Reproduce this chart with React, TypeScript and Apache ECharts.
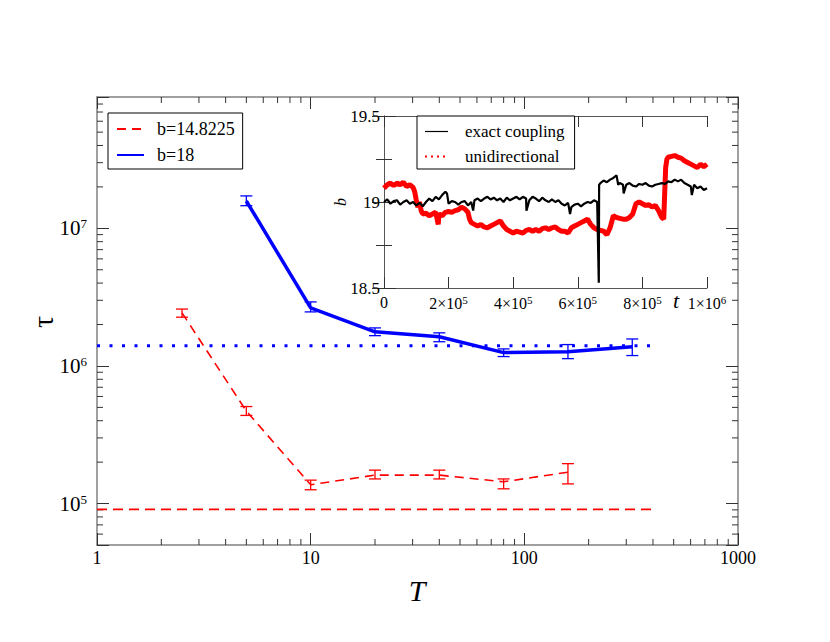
import React, { useEffect, useRef } from 'react';
import * as echarts from 'echarts';

const SERIF = "'Liberation Serif', serif";

// Main panel: tau vs T
const tempsB18 = [5, 10, 20, 40, 80, 160, 320];
const tauB18 = [1.58e7, 2.64e6, 1.77e6, 1.63e6, 1.25e6, 1.27e6, 1.38e6];
const tauB18Lo = [1.46e7, 2.47e6, 1.66e6, 1.5e6, 1.17e6, 1.13e6, 1.19e6];
const tauB18Hi = [1.72e7, 2.92e6, 1.89e6, 1.74e6, 1.33e6, 1.43e6, 1.57e6];

const tempsB14 = [2.5, 5, 10, 20, 40, 80, 160];
const tauB14 = [2.43e6, 4.7e5, 1.37e5, 1.61e5, 1.61e5, 1.44e5, 1.69e5];
const tauB14Lo = [2.26e6, 4.37e5, 1.26e5, 1.51e5, 1.51e5, 1.28e5, 1.39e5];
const tauB14Hi = [2.59e6, 5.07e5, 1.48e5, 1.75e5, 1.75e5, 1.51e5, 1.95e5];

const refTauB18 = 1.4e6;
const refTauB14 = 9.06e4;
const refTRange = [1, 400];

const xMinorTicks = [2, 3, 4, 5, 6, 7, 8, 9, 20, 30, 40, 50, 60, 70, 80, 90, 200, 300, 400, 500, 600, 700, 800, 900];
const yMinorTicks = [6e4, 7e4, 8e4, 9e4, 2e5, 3e5, 4e5, 5e5, 6e5, 7e5, 8e5, 9e5, 2e6, 3e6, 4e6, 5e6, 6e6, 7e6, 8e6, 9e6, 2e7, 3e7, 4e7, 5e7, 6e7, 7e7, 8e7];

// Inset: b vs t (t in units of 1e4)
const exactCoupling: [number, number][] = [
  [0, 19.0], [1, 19.015], [2, 18.99], [3, 19.005], [4, 19.01], [5, 18.985], [6, 19.0], [7, 19.01], [8, 18.99], [9, 19.0],
  [10, 18.98], [11, 18.995], [12, 18.975], [13, 19.0], [14, 19.02], [15, 19.005], [16, 19.03], [17, 19.015], [18, 19.04], [19, 19.06],
  [19.5, 19.05], [20, 18.99], [21, 19.005], [22, 19.0], [23, 18.985], [24, 19.0], [25, 19.005], [26, 18.98], [27, 19.0], [27.6, 18.95],
  [28, 19.01], [29, 19.02], [30, 19.005], [31, 19.02], [32, 19.03], [33, 19.015], [34, 19.025], [35, 19.01], [36, 19.02], [37, 19.0],
  [38, 19.025], [39, 19.01], [40, 19.02], [41, 19.03], [42, 19.015], [43, 19.03], [44, 19.02], [44.1, 18.95], [45, 19.01], [46, 19.03],
  [47, 19.02], [48, 19.005], [49, 19.025], [50, 19.01], [51, 19.0], [52, 19.015], [53, 19.0], [54, 19.01], [55, 18.99], [56, 18.98],
  [57, 18.995], [57.6, 18.93], [58, 18.97], [59, 18.985], [60, 18.99], [61, 18.975], [62, 18.99], [63, 19.0], [64, 18.995], [65, 19.01],
  [66, 19.0], [66.5, 18.53], [66.6, 19.1], [67, 19.11], [68, 19.125], [69, 19.115], [70, 19.13], [71, 19.14], [72, 19.155], [72.5, 19.1],
  [73, 19.11], [74, 19.1], [74.2, 19.05], [75, 19.1], [76, 19.11], [77, 19.095], [78, 19.09], [79, 19.105], [80, 19.1], [81, 19.11],
  [82, 19.095], [83, 19.09], [84, 19.1], [85, 19.105], [86, 19.11], [87, 19.105], [88, 19.12], [89, 19.115], [90, 19.13], [91, 19.12],
  [92, 19.13], [93, 19.11], [94, 19.1], [95, 19.09], [95.3, 19.04], [96, 19.1], [97, 19.08], [98, 19.09], [99, 19.07], [100, 19.08],
];

const unidirectional: [number, number][] = [
  [0, 19.08], [1, 19.1], [2, 19.11], [3, 19.095], [4, 19.11], [5, 19.1], [6, 19.115], [7, 19.09], [8, 19.1], [9, 19.085],
  [9.5, 19.06], [10, 19.01], [10.5, 18.97], [11, 19.0], [11.5, 18.95], [12, 18.93], [13, 18.935], [14, 18.92], [15, 18.93], [16, 18.94],
  [16.8, 18.87], [17, 18.93], [18, 18.92], [19, 18.94], [20, 18.945], [21, 18.94], [22, 18.95], [23, 18.955], [24, 18.97], [25, 18.96],
  [26, 18.94], [26.5, 18.9], [27, 18.88], [28, 18.87], [29, 18.86], [30, 18.87], [31, 18.855], [32, 18.85], [33, 18.86], [34, 18.87],
  [35, 18.88], [36, 18.89], [37, 18.86], [38, 18.84], [39, 18.83], [40, 18.82], [41, 18.83], [42, 18.825], [43, 18.82], [44, 18.835],
  [45, 18.84], [46, 18.83], [47, 18.84], [48, 18.83], [49, 18.845], [50, 18.85], [51, 18.84], [52, 18.85], [53, 18.855], [54, 18.84],
  [55, 18.83], [56, 18.83], [57, 18.82], [58, 18.85], [59, 18.86], [60, 18.87], [61, 18.88], [62, 18.89], [63, 18.9], [64, 18.87],
  [65, 18.85], [66, 18.84], [67, 18.835], [68, 18.83], [69, 18.81], [70, 18.85], [71, 18.92], [72, 18.91], [73, 18.905], [74, 18.9],
  [75, 18.9], [76, 18.91], [77, 18.93], [78, 18.99], [79, 19.0], [80, 18.99], [81, 18.98], [82, 18.985], [83, 18.97], [84, 18.98],
  [85, 18.95], [86, 18.91], [86.6, 18.9], [87.2, 19.2], [87.6, 19.25], [88, 19.26], [89, 19.265], [90, 19.27], [91, 19.26], [92, 19.255],
  [93, 19.24], [94, 19.23], [95, 19.22], [96, 19.21], [97, 19.2], [98, 19.22], [99, 19.205], [100, 19.22],
];

const X_MIN = 1, X_MAX = 1000, Y_MIN = 5e4, Y_MAX = 9e7;

function pow10Label(v: number) {
  const e = Math.log10(v);
  const r = Math.round(e);
  if (Math.abs(e - r) > 1e-6) return '';
  return '10{sup|' + r + '}';
}

function sciLabel(v: number) {
  if (v === 0) return '0';
  const e = Math.floor(Math.log10(v) + 1e-9);
  const m = Math.round(v / Math.pow(10, e));
  return m + '×10{sup|' + e + '}';
}

function errorBars(color: string) {
  return (params: any, api: any) => {
    const x = api.value(0);
    const lo = api.coord([x, api.value(1)]);
    const hi = api.coord([x, api.value(2)]);
    const w = 6;
    const style = { stroke: color, lineWidth: 1.3, fill: 'none' };
    return {
      type: 'group',
      children: [
        { type: 'line', shape: { x1: lo[0], y1: lo[1], x2: hi[0], y2: hi[1] }, style },
        { type: 'line', shape: { x1: lo[0] - w, y1: lo[1], x2: lo[0] + w, y2: lo[1] }, style },
        { type: 'line', shape: { x1: hi[0] - w, y1: hi[1], x2: hi[0] + w, y2: hi[1] }, style },
      ],
    };
  };
}

const tickStyle = { stroke: '#333', lineWidth: 1 };

function xMinorRender(params: any, api: any) {
  const v = api.value(0);
  const b = api.coord([v, Y_MIN]);
  const t = api.coord([v, Y_MAX]);
  return {
    type: 'group',
    children: [
      { type: 'line', shape: { x1: b[0], y1: b[1], x2: b[0], y2: b[1] - 6 }, style: tickStyle },
      { type: 'line', shape: { x1: t[0], y1: t[1], x2: t[0], y2: t[1] + 6 }, style: tickStyle },
    ],
  };
}

function yMinorRender(params: any, api: any) {
  const v = api.value(1);
  const l = api.coord([X_MIN, v]);
  const r = api.coord([X_MAX, v]);
  return {
    type: 'group',
    children: [
      { type: 'line', shape: { x1: l[0], y1: l[1], x2: l[0] + 6, y2: l[1] }, style: tickStyle },
      { type: 'line', shape: { x1: r[0], y1: r[1], x2: r[0] - 6, y2: r[1] }, style: tickStyle },
    ],
  };
}

export default function App() {
  const ref = useRef<HTMLDivElement>(null);
  useEffect(() => {
    if (!ref.current) return;
    const chart = echarts.init(ref.current, undefined, { renderer: 'svg' });
    const axisLineStyle = { color: '#808080', width: 1.5 };
    const tickLine = { color: '#333', width: 1 };
    const supRich = { sup: { fontSize: 13, fontFamily: SERIF, color: '#000', verticalAlign: 'top', padding: [0, 0, 9, 0] } };
    const insetRich = { sup: { fontSize: 11, fontFamily: SERIF, color: '#000', verticalAlign: 'top', padding: [0, 0, 7, 0] } };

    const mainLog = (pos: 'bottom' | 'top', show: boolean) => ({
      type: 'log', logBase: 10, gridIndex: 0, min: X_MIN, max: X_MAX, position: pos,
      axisLine: { show: true, lineStyle: axisLineStyle },
      axisTick: { show: true, inside: true, length: 12, lineStyle: tickLine },
      axisLabel: {
        show, fontFamily: SERIF, fontSize: 18, color: '#000', margin: 4,
        formatter: (v: number) => String(Math.round(v)),
      },
      splitLine: { show: false },
    });
    const mainLogY = (pos: 'left' | 'right', show: boolean) => ({
      type: 'log', logBase: 10, gridIndex: 0, min: Y_MIN, max: Y_MAX, position: pos,
      axisLine: { show: true, lineStyle: axisLineStyle },
      axisTick: { show: true, inside: true, length: 12, lineStyle: tickLine },
      axisLabel: {
        show, fontFamily: SERIF, fontSize: 21, color: '#000', margin: 10,
        formatter: pow10Label, rich: supRich,
      },
      splitLine: { show: false },
    });
    const insetX = (pos: 'bottom' | 'top', show: boolean) => ({
      type: 'value', gridIndex: 1, min: 0, max: 1e6, interval: 2e5, position: pos,
      axisLine: { show: true, lineStyle: { color: '#555', width: 1 } },
      axisTick: { show: true, inside: true, length: 11, lineStyle: tickLine },
      axisLabel: { show, fontFamily: SERIF, fontSize: 16, color: '#000', margin: 6, formatter: sciLabel, rich: insetRich },
      splitLine: { show: false },
    });
    const insetY = (pos: 'left' | 'right', show: boolean) => ({
      type: 'value', gridIndex: 1, min: 18.5, max: 19.5, interval: 0.5, position: pos,
      axisLine: { show: true, lineStyle: { color: '#555', width: 1 } },
      axisTick: { show: true, inside: true, length: 12, lineStyle: tickLine },
      minorTick: { show: true, splitNumber: 2, length: 8, lineStyle: tickLine },
      axisLabel: { show, fontFamily: SERIF, fontSize: 17, color: '#000', margin: 4 },
      splitLine: { show: false },
      minorSplitLine: { show: false },
    });

    const option: any = {
      animation: false,
      backgroundColor: '#fff',
      grid: [
        { left: 97, top: 97, width: 641, height: 448, show: false },
        { left: 384, top: 116, width: 323, height: 172, show: false },
      ],
      xAxis: [mainLog('bottom', true), mainLog('top', false), insetX('bottom', true), insetX('top', false)],
      yAxis: [mainLogY('left', true), mainLogY('right', false), insetY('left', true), insetY('right', false)],
      legend: [
        {
          data: ['b=14.8225', 'b=18'],
          orient: 'vertical', left: 108, top: 113,
          itemWidth: 27, itemHeight: 14, itemGap: 8,
          padding: [7, 8, 5, 8],
          borderColor: '#000', borderWidth: 1, backgroundColor: '#fff',
          itemStyle: { opacity: 0 },
          textStyle: { fontFamily: SERIF, fontSize: 18, color: '#000', padding: [0, 0, 0, 8] },
          selectedMode: false,
        },
        {
          data: [
            { name: 'exact coupling', lineStyle: { width: 1.2 } },
            { name: 'unidirectional', lineStyle: { type: [2, 4], width: 2 } },
          ],
          orient: 'vertical', left: 417, top: 116,
          itemWidth: 23, itemHeight: 14, itemGap: 8,
          padding: [7, 10, 4, 7],
          borderColor: '#000', borderWidth: 1, backgroundColor: '#fff',
          itemStyle: { opacity: 0 },
          textStyle: { fontFamily: SERIF, fontSize: 17, color: '#000', padding: [0, 0, 0, 12] },
          selectedMode: false,
        },
      ],
      series: [
        {
          name: 'b=14.8225', type: 'line', xAxisIndex: 0, yAxisIndex: 0,
          data: tempsB14.map((t, i) => [t, tauB14[i]]),
          symbol: 'none', color: '#ff0000',
          lineStyle: { color: '#ff0000', width: 1.6, type: [9, 6] },
          z: 3,
        },
        {
          name: 'b=18', type: 'line', xAxisIndex: 0, yAxisIndex: 0,
          data: tempsB18.map((t, i) => [t, tauB18[i]]),
          symbol: 'none', color: '#0000ff',
          lineStyle: { color: '#0000ff', width: 3.5, type: 'solid' },
          z: 3,
        },
        {
          name: 'ref18', type: 'line', xAxisIndex: 0, yAxisIndex: 0,
          data: refTRange.map((t) => [t, refTauB18]),
          symbol: 'none',
          lineStyle: { color: '#0000ff', width: 3, type: [3, 9.5] },
        },
        {
          name: 'ref14', type: 'line', xAxisIndex: 0, yAxisIndex: 0,
          data: refTRange.map((t) => [t, refTauB14]),
          symbol: 'none',
          lineStyle: { color: '#ff0000', width: 1.8, type: [10, 6] },
        },
        {
          name: 'errB14', type: 'custom', xAxisIndex: 0, yAxisIndex: 0,
          renderItem: errorBars('#ff0000'),
          encode: { x: 0, y: [1, 2] },
          data: tempsB14.map((t, i) => [t, tauB14Lo[i], tauB14Hi[i]]),
          z: 4,
        },
        {
          name: 'errB18', type: 'custom', xAxisIndex: 0, yAxisIndex: 0,
          renderItem: errorBars('#0000ff'),
          encode: { x: 0, y: [1, 2] },
          data: tempsB18.map((t, i) => [t, tauB18Lo[i], tauB18Hi[i]]),
          z: 4,
        },
        {
          name: 'xMinor', type: 'custom', xAxisIndex: 0, yAxisIndex: 0,
          renderItem: xMinorRender, encode: { x: 0, y: 1 },
          data: xMinorTicks.map((v) => [v, Y_MIN]),
          silent: true,
        },
        {
          name: 'yMinor', type: 'custom', xAxisIndex: 0, yAxisIndex: 0,
          renderItem: yMinorRender, encode: { x: 0, y: 1 },
          data: yMinorTicks.map((v) => [X_MIN, v]),
          silent: true,
        },
        {
          name: 'unidirectional', type: 'line', xAxisIndex: 2, yAxisIndex: 2,
          data: unidirectional.map(([t, b]) => [t * 1e4, b]),
          symbol: 'none', color: '#ff0000',
          lineStyle: { color: '#ff0000', width: 5 },
        },
        {
          name: 'exact coupling', type: 'line', xAxisIndex: 2, yAxisIndex: 2,
          data: exactCoupling.map(([t, b]) => [t * 1e4, b]),
          symbol: 'none', color: '#000',
          lineStyle: { color: '#000', width: 2.2 },
        },
      ],
      graphic: [
        { type: 'text', x: 417, y: 590, style: { text: 'T', font: 'italic 30px ' + SERIF, fill: '#000', textAlign: 'center', textVerticalAlign: 'middle' } },
        { type: 'text', x: 42, y: 322, rotation: Math.PI / 2, style: { text: 'τ', font: '30px ' + SERIF, fill: '#000', textAlign: 'center', textVerticalAlign: 'middle' } },
        { type: 'text', x: 676, y: 300, style: { text: 't', font: 'italic 22px ' + SERIF, fill: '#000', textAlign: 'center', textVerticalAlign: 'middle' } },
        { type: 'text', x: 340, y: 202, rotation: Math.PI / 2, style: { text: 'b', font: 'italic 16px ' + SERIF, fill: '#000', textAlign: 'center', textVerticalAlign: 'middle' } },
      ],
    };
    chart.setOption(option);
    return () => chart.dispose();
  }, []);
  return <div ref={ref} style={{ position: 'fixed', left: 0, top: 0, width: 830, height: 642 }} />;
}
